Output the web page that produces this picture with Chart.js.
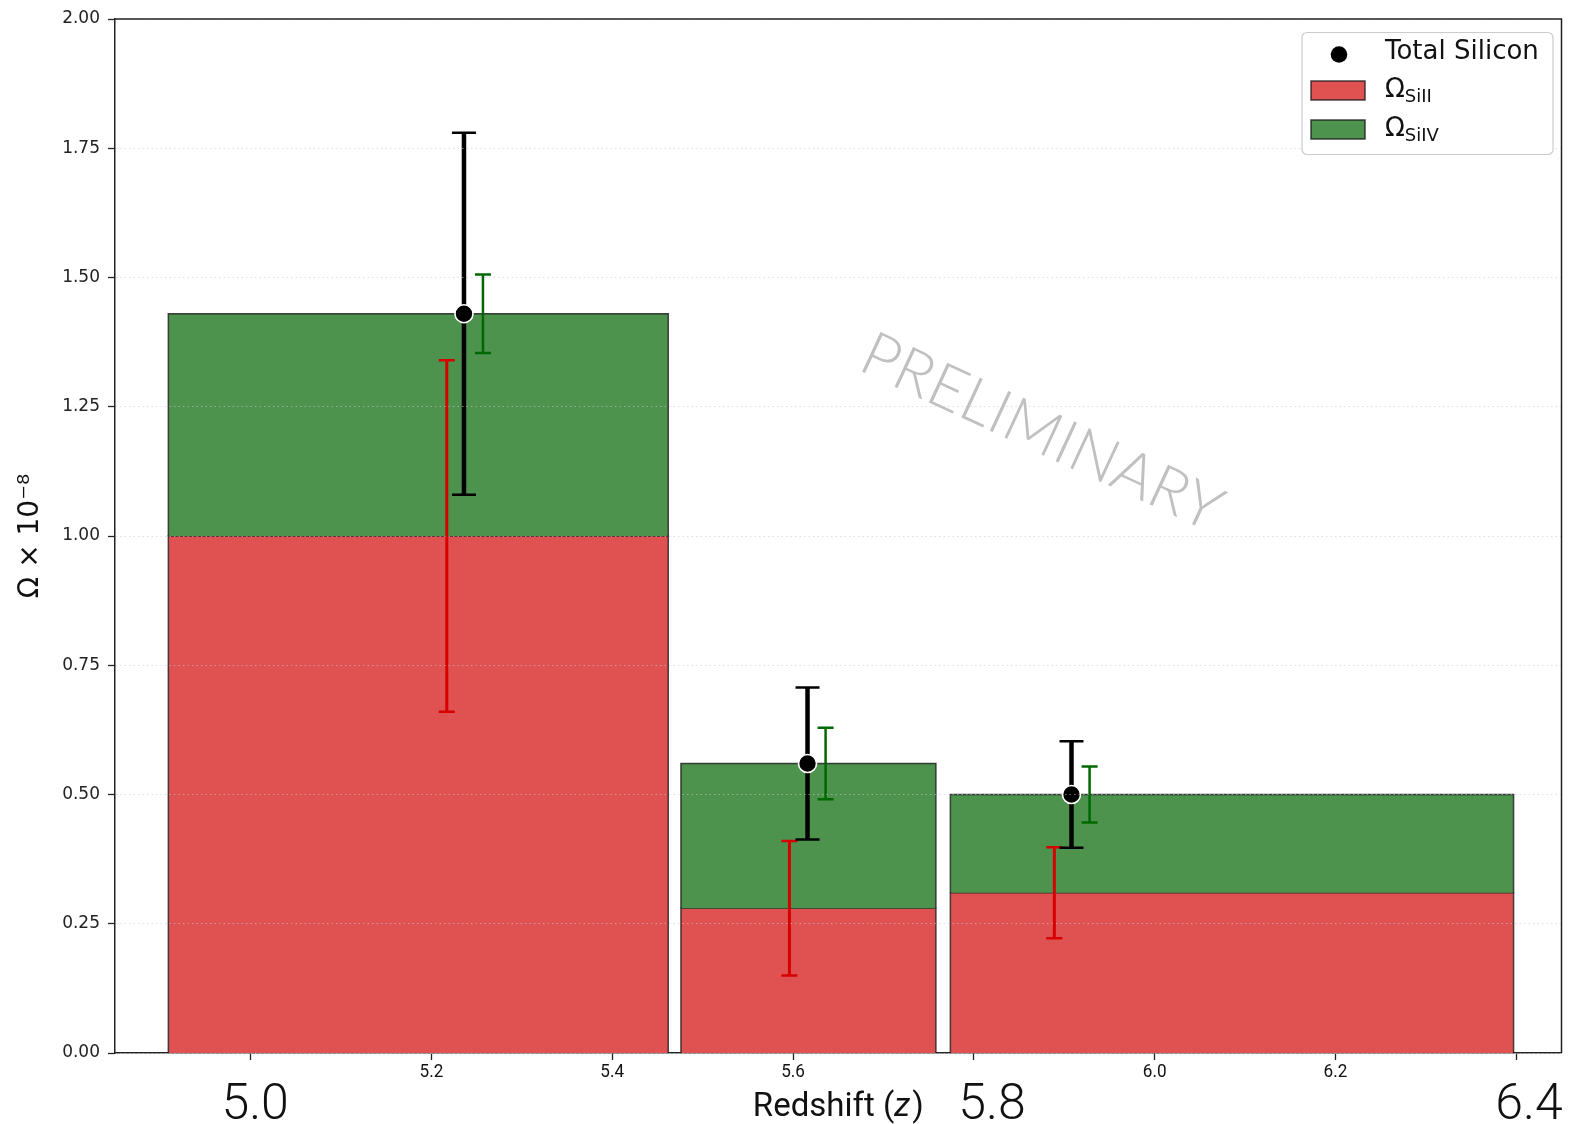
<!DOCTYPE html>
<html>
<head>
<meta charset="utf-8">
<script src="https://cdn.jsdelivr.net/npm/chart.js@4/dist/chart.umd.min.js"></script>
<style>
  html, body { margin: 0; padding: 0; background: #fff; }
  #wrap { width: 1576px; height: 1124px; }
</style>
</head>
<body>
<div id="wrap"><canvas id="grafico" width="1576" height="1124"></canvas></div>
<script>
// redshift bins
const binLo = [4.909, 5.476, 5.774];
const binHi = [5.462, 5.758, 6.397];

// stacked omegas (x 1e-8)
const siII = [1.0, 0.28, 0.31];
const siIV = [0.43, 0.28, 0.19];

// error bars, each drawn at its own offset redshift
const totalZ = [5.236, 5.616, 5.908];
const totalVal = [1.43, 0.56, 0.5];
const totalErr = [0.35, 0.147, 0.103];

const siIIZ = [5.217, 5.596, 5.889];
const siIIErr = [0.34, 0.13, 0.088];

const siIVZ = [5.257, 5.636, 5.928];
const siIVErr = [0.076, 0.069, 0.054];

const yTicks = [0, 0.25, 0.5, 0.75, 1.0, 1.25, 1.5, 1.75, 2.0];
const xTicks = [5.0, 5.2, 5.4, 5.6, 5.8, 6.0, 6.2, 6.4];
const bigTicks = [5.0, 5.8, 6.4];
// where the big labels sit (they are a bit off their ticks in the original)
const bigLabelZ = [5.005, 5.82, 6.414];

const RED = "rgb(224,81,81)";
const GREEN = "rgb(77,146,77)";
const EDGE = "rgba(25,25,25,0.8)";

function errorData(zs, centers, errs) {
  const out = [];
  for (let i = 0; i < zs.length; i++) {
    out.push({ x: zs[i], y: centers[i] - errs[i] });
    out.push({ x: zs[i], y: centers[i] + errs[i] });
    out.push({ x: zs[i], y: null });
  }
  return out;
}

const datasets = [];

for (let i = 0; i < binLo.length; i++) {
  const top = siII[i] + siIV[i];
  datasets.push({
    label: "SiII " + i,
    order: 10,
    data: [
      { x: binLo[i], y: 0 },
      { x: binLo[i], y: siII[i] },
      { x: binHi[i], y: siII[i] },
      { x: binHi[i], y: 0 },
    ],
    borderColor: EDGE,
    borderWidth: 1.5,
    backgroundColor: RED,
    fill: "origin",
    pointRadius: 0,
    tension: 0,
  });
  datasets.push({
    label: "SiIV " + i,
    order: 9,
    data: [
      { x: binLo[i], y: siII[i] },
      { x: binLo[i], y: top },
      { x: binHi[i], y: top },
      { x: binHi[i], y: siII[i] },
    ],
    borderColor: EDGE,
    borderWidth: 1.5,
    backgroundColor: GREEN,
    fill: { value: siII[i] },
    pointRadius: 0,
    tension: 0,
  });
}

const greenCenters = siII.map((v, i) => v + siIV[i]);

datasets.push({
  label: "SiII err",
  order: 4,
  data: errorData(siIIZ, siII, siIIErr),
  borderColor: "#d60000",
  borderWidth: 3,
  pointStyle: "line",
  pointRadius: 8,
  pointBorderWidth: 2.5,
  pointBorderColor: "#d60000",
  spanGaps: false,
  fill: false,
});
datasets.push({
  label: "SiIV err",
  order: 3,
  data: errorData(siIVZ, greenCenters, siIVErr),
  borderColor: "#006800",
  borderWidth: 2.5,
  pointStyle: "line",
  pointRadius: 8,
  pointBorderWidth: 2.5,
  pointBorderColor: "#006800",
  spanGaps: false,
  fill: false,
});
datasets.push({
  label: "Total err",
  order: 2,
  data: errorData(totalZ, totalVal, totalErr),
  borderColor: "#000",
  borderWidth: 4.5,
  pointStyle: "line",
  pointRadius: 12,
  pointBorderWidth: 2.5,
  pointBorderColor: "#000",
  spanGaps: false,
  fill: false,
});
datasets.push({
  label: "Total Silicon",
  order: 1,
  data: totalZ.map((z, i) => ({ x: z, y: totalVal[i] })),
  showLine: false,
  pointRadius: 9,
  pointBackgroundColor: "#000",
  pointBorderColor: "#fff",
  pointBorderWidth: 1.6,
});

function narrowText(ctx, text, x, y, font, sx) {
  ctx.save();
  ctx.font = font;
  ctx.translate(x, y);
  ctx.scale(sx, 1);
  ctx.fillText(text, 0, 0);
  ctx.restore();
}

const extras = {
  id: "extras",
  afterDraw(chart) {
    const ctx = chart.ctx;
    const a = chart.chartArea;
    const xs = chart.scales.x;
    const ys = chart.scales.y;

    ctx.save();

    // top and right spines
    ctx.strokeStyle = "#222";
    ctx.lineWidth = 1.5;
    ctx.beginPath();
    ctx.moveTo(a.left, a.top);
    ctx.lineTo(a.right, a.top);
    ctx.lineTo(a.right, a.bottom);
    ctx.stroke();

    // x tick labels: small ones on ticks, big ones a bit lower
    ctx.fillStyle = "#111";
    ctx.textAlign = "center";
    ctx.textBaseline = "middle";
    xTicks.forEach((v) => {
      if (!bigTicks.includes(v)) {
        narrowText(ctx, v.toFixed(1), xs.getPixelForValue(v), a.bottom + 19, "19px Roboto", 0.9);
      }
    });
    bigTicks.forEach((v, i) => {
      narrowText(ctx, v.toFixed(1), xs.getPixelForValue(bigLabelZ[i]), a.bottom + 53, "300 50px Roboto", 1.0);
    });

    // x title with italic z
    const cx = (a.left + a.right) / 2;
    const ty = a.bottom + 55;
    const f = "33px Roboto";
    const fi = "italic 33px Roboto";
    ctx.textAlign = "left";
    ctx.save();
    ctx.font = f;
    const w1 = ctx.measureText("Redshift (").width;
    ctx.font = fi;
    const w2 = ctx.measureText("z").width;
    ctx.font = f;
    const w3 = ctx.measureText(")").width;
    ctx.translate(cx - (w1 + w2 + w3 + 2) / 2, ty);
    ctx.fillText("Redshift (", 0, 0);
    ctx.font = fi;
    ctx.fillText("z", w1, 0);
    ctx.font = f;
    ctx.fillText(")", w1 + w2 + 2, 0);
    ctx.restore();

    // watermark
    ctx.save();
    ctx.translate(xs.getPixelForValue(5.875), ys.getPixelForValue(1.2));
    ctx.rotate(0.433);
    ctx.font = "300 62px Lato";
    ctx.fillStyle = "rgb(192,192,192)";
    ctx.textAlign = "center";
    ctx.textBaseline = "middle";
    ctx.fillText("PRELIMINARY", 0, 0);
    ctx.restore();

    // legend
    const lx = a.right - 259.5;
    const ly = a.top + 13.5;
    ctx.fillStyle = "rgba(255,255,255,0.85)";
    ctx.strokeStyle = "#cccccc";
    ctx.lineWidth = 1.2;
    ctx.beginPath();
    ctx.roundRect(lx, ly, 251, 122, 5);
    ctx.fill();
    ctx.stroke();

    ctx.fillStyle = "#000";
    ctx.beginPath();
    ctx.arc(lx + 37, ly + 22, 8.3, 0, Math.PI * 2);
    ctx.fill();

    ctx.fillStyle = "#111";
    ctx.textAlign = "left";
    ctx.textBaseline = "middle";
    ctx.font = "26px 'DejaVu Sans'";
    ctx.fillText("Total Silicon", lx + 83, ly + 20);

    const rows = [
      { color: RED, sub: "SiII", y: ly + 58 },
      { color: GREEN, sub: "SiIV", y: ly + 97 },
    ];
    rows.forEach((r) => {
      ctx.fillStyle = r.color;
      ctx.fillRect(lx + 9, r.y - 9.5, 54, 19);
      ctx.strokeStyle = EDGE;
      ctx.lineWidth = 1.5;
      ctx.strokeRect(lx + 9, r.y - 9.5, 54, 19);
      ctx.fillStyle = "#111";
      ctx.font = "26px 'DejaVu Sans'";
      ctx.fillText("Ω", lx + 83, r.y);
      const ow = ctx.measureText("Ω").width;
      ctx.font = "18px 'DejaVu Sans'";
      ctx.fillText(r.sub, lx + 83 + ow, r.y + 7);
    });

    ctx.restore();
  },
};

const chart = new Chart(document.getElementById("grafico").getContext("2d"), {
  type: "line",
  data: { datasets: datasets },
  options: {
    responsive: false,
    devicePixelRatio: 1,
    animation: false,
    events: [],
    layout: { padding: { top: 19, right: 11.5, left: 0, bottom: 0 } },
    plugins: {
      legend: { display: false },
      tooltip: { enabled: false },
    },
    scales: {
      x: {
        type: "linear",
        min: 4.85,
        max: 6.45,
        afterBuildTicks: (s) => {
          s.ticks = xTicks.map((v) => ({ value: v }));
        },
        afterFit: (s) => {
          s.height = 71;
        },
        grid: {
          drawOnChartArea: false,
          drawTicks: true,
          tickLength: 7,
          tickColor: "#222",
          tickWidth: 1.3,
        },
        border: { color: "#222", width: 1.5 },
        ticks: { autoSkip: false, maxRotation: 0, callback: () => "" },
      },
      y: {
        min: 0,
        max: 2,
        afterBuildTicks: (s) => {
          s.ticks = yTicks.map((v) => ({ value: v }));
        },
        afterFit: (s) => {
          s.width = 115;
        },
        grid: {
          color: "rgba(200,200,200,0.6)",
          lineWidth: 1,
          z: 1,
          tickLength: 7,
          tickColor: "#222",
          tickWidth: 1.3,
        },
        border: { color: "#222", width: 1.5, dash: [1.5, 3], z: 1 },
        ticks: {
          color: "#222",
          padding: 8,
          font: { family: "'DejaVu Sans'", size: 17 },
          callback: (v) => v.toFixed(2),
        },
        title: {
          display: true,
          text: "Ω × 10⁻⁸",
          color: "#111",
          font: { family: "'DejaVu Sans'", size: 28 },
          padding: { top: 14, bottom: 0 },
        },
      },
    },
  },
  plugins: [extras],
});
</script>
</body>
</html>
